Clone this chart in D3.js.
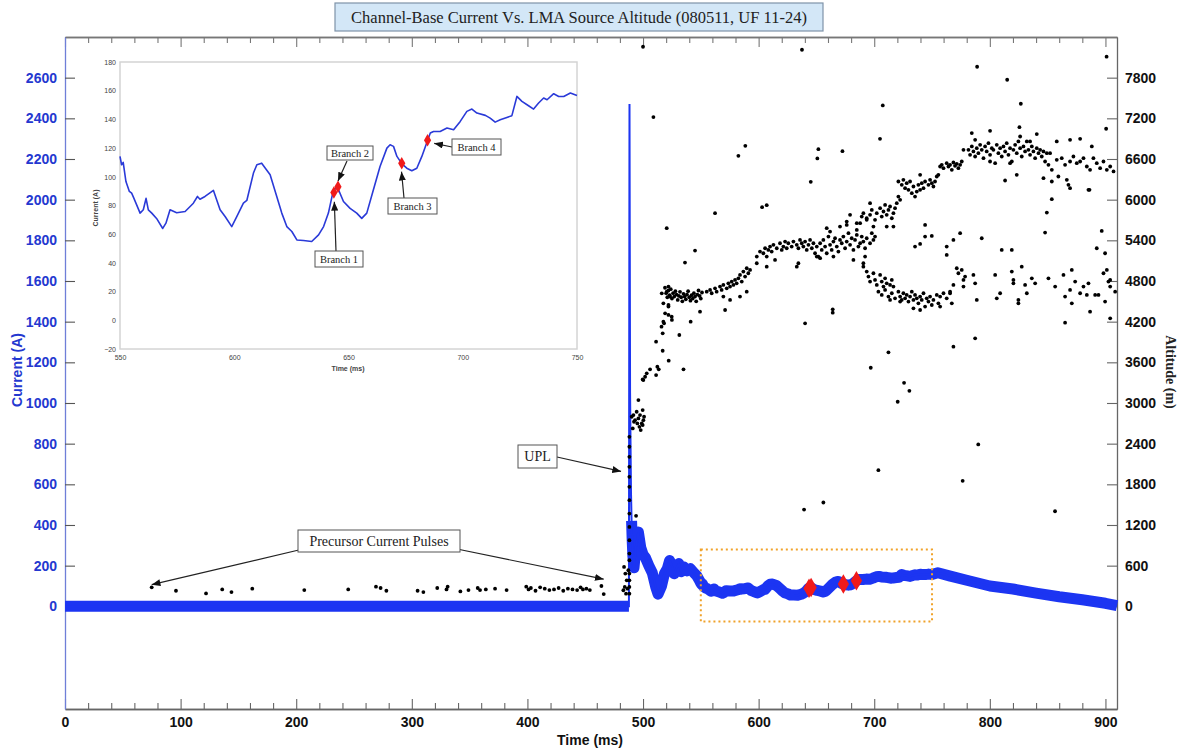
<!DOCTYPE html>
<html>
<head>
<meta charset="utf-8">
<script src="https://cdn.jsdelivr.net/npm/d3@7"></script>
<style>
  body { margin: 0; background: #ffffff; }
  svg text { font-family: "Liberation Sans", Arial, sans-serif; }
  svg text.serif { font-family: "Liberation Serif", "Times New Roman", serif; }
</style>
</head>
<body>
<svg id="chart" width="1179" height="749"></svg>
<script>
// ---------- tick labels ----------
const timeTicks = [0, 100, 200, 300, 400, 500, 600, 700, 800, 900];
const currentTicks = [0, 200, 400, 600, 800, 1000, 1200, 1400, 1600, 1800, 2000, 2200, 2400, 2600];
const altitudeTicks = [0, 600, 1200, 1800, 2400, 3000, 3600, 4200, 4800, 5400, 6000, 6600, 7200, 7800];
const insetTimeTicks = [550, 600, 650, 700, 750];
const insetCurrentTicks = [-20, 0, 20, 40, 60, 80, 100, 120, 140, 160, 180];

// ---------- channel-base current (ms, A) ----------
// before and through the return stroke / UPL onset
const earlyTime    = [0, 487.8, 488.3, 488.8, 489.2, 489.6, 490.1, 490.6, 491.2, 492.2, 494, 496, 498, 500, 502, 505, 508, 511, 513, 516, 518.5, 521, 523, 525, 527, 529, 531, 533, 535, 538, 541, 544, 546.5, 549];
const earlyCurrent = [0, 0, 2470, 1050, 800, 560, 420, 330, 250, 190, 300, 365, 290, 255, 240, 200, 165, 95, 60, 100, 160, 185, 225, 200, 160, 190, 210, 170, 195, 175, 185, 165, 150, 125];
// 550-750 ms window (shown enlarged in the inset)
const insetTime = [550, 550.7, 551.4, 552.6, 554.1, 555.1, 556.1, 558.8, 560.2, 561.4, 562.4, 563.9, 566, 568.7, 570.1, 571.9, 574.8, 578.5, 582.1, 583.9, 585, 587.2, 590.9, 593.8, 596, 598.9, 601.1, 604, 605.5, 608.4, 609.9, 612, 615.7, 618.6, 620.8, 623, 625.2, 627.4, 630.3, 633.9, 636.9, 639.1, 641.2, 643.1, 644.9, 647.8, 650.7, 653.6, 655.8, 658, 660.9, 663.8, 666.8, 668.2, 669.7, 671.2, 673.4, 675.5, 677.7, 679.9, 682.1, 684.6, 685.8, 687.2, 690.1, 693.1, 696, 698.9, 701.8, 704, 706.2, 709.9, 712, 714.2, 716.4, 719.3, 721.5, 723.7, 725.9, 728.8, 731, 733.2, 735.4, 736.9, 739.8, 742, 744.2, 747.1, 750];
const insetCurrent = [114.2, 108.4, 110, 96.7, 89.8, 88.6, 85, 74.7, 77, 85, 77, 74.7, 71, 64, 67.7, 77, 75, 75.8, 81.6, 86.3, 84.4, 86.3, 90.5, 77, 72.3, 65.3, 72.3, 81.6, 83.5, 102.6, 108.4, 109.5, 101.4, 86.3, 74.7, 65.3, 61.9, 56, 55.6, 54.9, 59.5, 65.3, 74.7, 88.6, 93.7, 82.8, 78, 74.7, 71, 74.7, 91, 107.2, 120, 122.3, 121.2, 114.2, 109, 106, 104.2, 106, 114.2, 125.3, 130.5, 131.6, 131.6, 134, 132.8, 138.6, 145.6, 147.2, 144.4, 142.8, 140.9, 138.1, 139.7, 141.4, 142.6, 156, 152.6, 149.5, 147.2, 151.4, 154.9, 153.7, 157.9, 156, 156, 158.4, 156.7];
// slow decay after 750 ms
const lateTime    = [755, 765, 780, 800, 820, 840, 860, 880, 900, 910];
const lateCurrent = [165, 150, 128, 100, 85, 65, 47, 32, 15, 3];

// ---------- branch onsets ----------
const branchLabels  = ["Branch 1", "Branch 2", "Branch 3", "Branch 4"];
const branchTime    = [643.6, 645.4, 673.3, 684.6];
const branchCurrent = [89, 93, 109.5, 125.5];

// ---------- LMA sources (ms, m) ----------
const lmaPrecursor = [[75,280],[96,230],[122,190],[136,250],[144,210],[162,260],[207,240],[245,250],[269,290],[273,270],[278,230],[305,230],[310,210],[322,270],[330,250],[331,290],[342,220],[349,240],[357,270],[359,240],[364,250],[372,260],[382,240],[399,290],[401,250],[403,270],[407,230],[411,280],[415,260],[419,240],[423,250],[427,270],[431,230],[435,260],[439,250],[443,240],[446,280],[448,250],[451,260],[454,240],[464,300],[466,180]];

const lmaLeader = [[483,237],[483.6,581],[484.2,286],[484.7,483],[485.3,187],[485.9,384],[486.5,261],[487.3,532],
  [488.2,187],[488.2,286],[488.2,384],[488.2,483],[488.2,680],[488.2,778],[488.2,975],[488.2,1172],[488.2,1369],[488.2,1566],[488.2,1763],[488.2,1911],[488.2,2058],[488.2,2206],[488.2,2354],[488.2,2501],
  [494,1335],
  [490.2,2797],[491.7,2821],[493.1,2747],[494.5,2871],[496,2772],[497.4,2821],[498.9,2698],[499.7,2895],[500.3,2747],[496.9,2649],[498,2600],[499.7,2674],[495.1,2698],[492.2,2723],[491.1,2624],[500.9,2797],
  [496,3043],[499.7,3348],[500.3,3338],[501.8,3387],[503.2,3437],[506.1,3496],[511.3,3412],[512.4,3535],[513.6,3496],[511.3,3904],[517,3771],[522.2,3624],[517,4028],[518.2,4176],[519.1,4323],[524.8,4274],[522,4422],[517.6,4471],[520.5,4643],[516.2,4618],[523.4,4569],[522,4717]];

const lmaUpperBand = [
  [519,4700],[520,4620],[521,4560],[522,4660],[523,4590],[524,4680],[525,4540],[526,4620],[527,4570],[528,4650],[529,4600],[530,4520],[531,4580],[532,4640],[533,4560],[534,4500],[535,4610],[536,4570],[537,4530],[538,4600],[539,4650],[540,4560],[541,4510],[542,4590],[543,4540],[544,4620],[545,4570],[546,4500],[547,4600],[548,4660],[549,4580],[550,4540],[551,4630],[522,4446],[522,4299],[525,4225],[517.6,4200],[516,4126],
  [555.1,4643],[558,4668],[559.4,4619],[562.3,4692],[563.7,4643],[566.6,4717],[568,4668],[569.5,4742],[572.4,4692],[573.8,4766],[575.3,4717],[576.7,4791],[578.2,4742],[579.6,4816],[581,4766],[582.5,4840],[583.9,4889],[585.4,4791],[586.8,4939],[588.3,4865],[589.7,4988],[591.1,4914],[592.6,4963],[569.5,4570],[575.3,4520],[583.9,4570],[589.7,4643],
  [598.4,5160],[601.2,5234],[604.1,5209],[605.6,5283],[607,5160],[608.4,5259],[609.9,5308],[611.3,5234],[612.8,5333],[614.2,5111],[615.7,5283],[618.5,5357],[620,5259],[621.4,5308],[622.9,5382],[624.3,5283],[598.4,5062],[607,5012],[633,5012],[634.4,5062],
  [625.7,5357],[628.6,5308],[630.1,5382],[633,5333],[634.4,5283],[635.8,5406],[637.3,5357],[638.7,5308],[640.2,5382],[641.6,5259],[643.1,5333],[644.5,5406],[646,5283],[647.4,5357],[648.8,5209],[650.3,5308],[651.7,5160],[653.2,5357],[654.6,5259],[656,5406],[657.5,5308],[658.9,5209],[660.4,5456],[661.8,5333],[663.2,5259],[664.7,5382],[666.1,5431],[667.6,5308],[669,5234],[670.4,5406],[671.9,5357],[673.3,5456],[674.8,5283],[676.2,5382],[677.7,5505],[679.1,5333],[680.5,5431],[682,5259],[683.4,5406],[684.9,5480],[686.3,5308],[687.8,5357],[689.2,5456],[690.6,5382],[692.1,5283],[693.5,5431],[696.4,5357],[697.9,5505],[699.3,5406],[700.7,5456],
  [650.3,5160],[653.2,5136],[664.7,5160],[682,5111],[690.6,5062],[692.1,5160],[658.9,5579],[661.8,5529],[670.4,5603],[676.2,5628],[684.9,5554],[687.8,5653],[693.5,5702],
  [684.9,5653],[689.2,5751],[690.6,5800],[693.5,5726],[696.4,5776],[697.9,5849],[700.7,5702],[702.2,5800],[705.1,5874],[706.5,5751],[708,5825],[709.4,5923],[710.8,5776],[712.3,5849],[713.7,5899],[715.2,5726],[716.6,5800],[718,5874],[719.5,5948],[720.9,6046],[722.4,5997],[716.6,5603],[710.8,5603],[699.3,5603],[696.4,5948],[676.2,5677],[679.1,5776],
  [720.9,6268],[723.8,6219],[725.2,6293],[726.7,6170],[728.1,6243],[729.6,6145],[731,6268],[732.5,6096],[733.9,6194],[735.3,6046],[736.8,6120],[738.2,6219],[739.7,6145],[741.1,6243],[742.6,6170],[744,6268],[746.9,6219],[748.3,6293],[749.8,6243],[751.2,6194],[752.6,6268],[754.1,6342],[755.5,6366],[739.7,6366],
  [757,6489],[758.4,6514],[759.9,6465],[762.7,6539],[764.2,6489],[765.6,6514],[767.1,6440],[768.5,6548],[769.9,6499],[771.4,6529],[772.8,6465],[774.3,6514],[775.7,6563],[777.2,6736],
  [781.5,6736],[782.9,6662],[784.4,6785],[785.8,6711],[787.3,6637],[788.7,6760],[790.1,6686],[791.6,6809],[793,6736],[794.5,6612],[795.9,6785],[797.3,6711],[798.8,6834],[800.2,6662],[801.7,6760],[803.1,6736],[804.6,6539],[806,6809],[807.4,6686],[808.9,6760],[810.3,6637],[811.8,6785],[813.2,6711],[814.6,6834],[816.1,6662],[817.5,6760],[819,6563],[820.4,6736],[821.9,6809],[823.3,6686],[824.7,6859],[826.2,6760],[827.6,6637],[829.1,6785],[830.5,6711],[832,6859],[833.4,6736],[834.8,6662],[836.3,6785],[837.7,6711],[839.2,6612],[840.6,6760],[842.1,6686],[843.5,6736],[844.9,6637],[846.4,6711],[847.8,6563],[849.3,6686],[850.7,6514],[852.1,6686],[853.6,6440],[787.3,6883],[826.2,6932],[800.2,6563],[817.5,6539],[834.8,6859],
  [857.9,6588],[862.2,6612],[865.1,6514],[866.6,6293],[869.4,6563],[872.3,6637],[875.2,6539],[878.1,6563],[881,6612],[883.9,6489],[886.7,6440],[889.6,6612],[892.5,6539],[895.4,6465],[898.3,6563],[901.2,6440],[904.1,6489],[907,6416],[859.3,6342],[868,6219],[885.3,6145],[853.6,6268],[846.4,6317]
];

const lmaLowerBand = [
  [690.6,5012],[693.5,4939],[695,4865],[696.4,4791],[699.3,4914],[700.7,4816],[702.2,4742],[705.1,4889],[706.5,4791],[708,4717],[709.4,4840],[710.8,4766],[713.7,4742],[715.2,4816],[716.6,4717],
  [703.6,4643],[706.5,4594],[709.4,4668],[712.3,4570],[715.2,4619],[718,4545],[720.9,4643],[722.4,4570],[723.8,4520],[725.2,4619],[726.7,4545],[728.1,4594],[729.6,4496],[731,4570],[732.5,4643],[733.9,4520],[735.3,4594],[736.8,4545],[738.2,4471],[739.7,4570],[741.1,4520],[742.6,4619],[744,4422],[745.4,4545],[746.9,4496],[748.3,4570],[749.8,4446],[751.2,4520],[754.1,4594],[755.5,4471],[757,4570],[759.9,4619],[762.7,4545],[765.6,4643],[767.1,4471],[739.7,4372],[733.9,4397],[722.4,4496],[713.7,4520],[757,4422],
  [771.4,4988],[772.8,4914],[775.7,4963],[777.2,4816],[778.6,4865],[777.2,4717],[785.8,4889],[787.3,4766],[788.7,4520],[804.6,4889],[806,4545],[808.9,4619],[819,4939],[820.4,4816],[820.4,4766],[824.7,4520],[824.7,4471],[827.6,5012],[830.5,4742],[832,4619],[836.3,4840],[839.2,4766],[850.7,4840],[856.5,4717],[863.7,4889],[865.1,4570],[869.4,4668],[870.9,4963],[870.9,4471],[873.8,4791],[878.1,4619],[881,4717],[883.9,4594],[885.3,4766],[886.7,4348],[891.1,4594],[894,4594],[898.3,4914],[899.7,4496],[902.6,4791],[904.1,4717],[908.4,4643],[768.5,4742],[765.6,4619],
  [744,5628],[744,5456],[749.8,5465],[735.3,5308],[739.7,5347],[762.7,5308],[762.7,5185],[768.5,5406],[774.3,5505],[793,5431],[810.3,5259],[819,5259],[849.3,5810],[847.8,5515],[853.6,6007],[896.8,5539],[892.5,5283],[899.7,5209],[901.2,4963],[904.1,4816]
];

const lmaScattered = [[500,8256],[637.5,8212],[789,7961],[815,7769],[901,8109],[826.8,7415],[707.4,7390],[509,7218],[825.6,7070],[705,6898],[900.6,7046],[588.5,6795],[582.5,6647],[651.7,6745],[650.8,6608],[672.5,6716],[645.1,6263],[562.3,5800],[603,5889],[607,5918],[545,5249],[536.3,5072],[520.5,5579],[784.4,6982],[800.2,7016],[840.6,6967],[857.9,6859],[869.4,6883],[878.1,6898],[888.2,6785],[813.2,6283],[823.3,6366],[869.4,6170],[886.2,6145],
  [640.2,4175],[664.1,4382],[664.1,4333],[531.4,4003],[541.2,4200],[571,4372],[549.3,4348],[865.1,4185],[904.1,4249],[787.3,3954],[768.5,3831],[712.3,3747],[697,3520],[725.8,3298],[730.4,3180],[720.3,3018],[703.6,2009],[639.3,1428],[656,1532],[790,2388],[776.5,1851],[856.4,1403],[535,3496]];

// ---------- layout ----------
const svg = d3.select("#chart");
const plot = { left: 65, top: 37, right: 1117, bottom: 709 };
const blue = "#1c35f2";
const x = d3.scaleLinear().domain([0, 910]).range([plot.left, plot.right]);
const yCur = d3.scaleLinear().domain([-505, 2800]).range([plot.bottom, plot.top]);
const yAlt = d3.scaleLinear().domain([-1515, 8400]).range([plot.bottom, plot.top]);
const plain = d3.format("d");

// arrowhead
const defs = svg.append("defs");
defs.append("marker").attr("id", "arrow").attr("viewBox", "0 0 10 8")
  .attr("refX", 10).attr("refY", 4).attr("markerWidth", 9).attr("markerHeight", 7)
  .attr("markerUnits", "userSpaceOnUse").attr("orient", "auto")
  .append("path").attr("d", "M0,0 L10,4 L0,8 z").attr("fill", "#111");

// title
const title = svg.append("g");
title.append("rect").attr("x", 335).attr("y", 3).attr("width", 488).attr("height", 28)
  .attr("fill", "#d3e7f7").attr("stroke", "#7f93a8").attr("stroke-width", 1.2);
title.append("text").attr("class", "serif").attr("x", 579).attr("y", 23)
  .attr("text-anchor", "middle").attr("font-size", 16.5).attr("fill", "#222")
  .text("Channel-Base Current Vs. LMA Source Altitude (080511, UF 11-24)");

// ---------- axes ----------
const minorTimes = d3.range(0, 911, 20).filter(t => t % 100 !== 0);
function styleAxis(g, color) {
  g.selectAll("path.domain").attr("stroke", color).attr("stroke-width", 1.3);
  g.selectAll(".tick line").attr("stroke", color).attr("stroke-width", 1.1);
}
const gxb = svg.append("g").attr("transform", `translate(0,${plot.bottom})`)
  .call(d3.axisBottom(x).tickValues(timeTicks).tickSize(-10).tickSizeOuter(0).tickPadding(8).tickFormat(plain));
gxb.selectAll("text").attr("font-size", 14).attr("font-weight", "bold").attr("fill", "#111");
styleAxis(gxb, "#666");
const gxbm = svg.append("g").attr("transform", `translate(0,${plot.bottom})`)
  .call(d3.axisBottom(x).tickValues(minorTimes).tickSize(-6).tickSizeOuter(0).tickFormat(""));
styleAxis(gxbm, "#666");
const gxt = svg.append("g").attr("transform", `translate(0,${plot.top})`)
  .call(d3.axisTop(x).tickValues(timeTicks).tickSize(-10).tickSizeOuter(0).tickFormat(""));
styleAxis(gxt, "#777");
const gxtm = svg.append("g").attr("transform", `translate(0,${plot.top})`)
  .call(d3.axisTop(x).tickValues(minorTimes).tickSize(-6).tickSizeOuter(0).tickFormat(""));
styleAxis(gxtm, "#777");

const gyl = svg.append("g").attr("transform", `translate(${plot.left},0)`)
  .call(d3.axisLeft(yCur).tickValues(currentTicks).tickSize(-10).tickSizeOuter(0).tickPadding(8).tickFormat(plain));
gyl.selectAll("text").attr("font-size", 14).attr("font-weight", "bold").attr("fill", "#2438d0");
styleAxis(gyl, "#6f7fd8");
gyl.selectAll(".tick line").attr("stroke", "#555");

const gyr = svg.append("g").attr("transform", `translate(${plot.right},0)`)
  .call(d3.axisRight(yAlt).tickValues(altitudeTicks).tickSize(-10).tickSizeOuter(0).tickPadding(8).tickFormat(plain));
gyr.selectAll("text").attr("font-size", 14).attr("font-weight", "bold").attr("fill", "#111");
styleAxis(gyr, "#666");

svg.append("text").attr("transform", "translate(22,370) rotate(-90)")
  .attr("text-anchor", "middle").attr("font-size", 14).attr("font-weight", "bold")
  .attr("fill", "#2438d0").text("Current (A)");
svg.append("text").attr("class", "serif").attr("transform", "translate(1166,372) rotate(90)")
  .attr("text-anchor", "middle").attr("font-size", 14).attr("font-weight", "bold")
  .attr("fill", "#222").text("Altitude (m)");
svg.append("text").attr("x", 590).attr("y", 745).attr("text-anchor", "middle")
  .attr("font-size", 14).attr("font-weight", "bold").attr("fill", "#111").text("Time (ms)");

// ---------- current trace ----------
const traceTime = earlyTime.concat(insetTime, lateTime);
const traceCurrent = earlyCurrent.concat(insetCurrent, lateCurrent);
const trace = traceTime.map((t, i) => [t, traceCurrent[i]]);

// noisy band of the digitised record
svg.append("path").datum(trace)
  .attr("d", d3.line().defined(d => d[1] < 500).x(d => x(d[0])).y(d => yCur(d[1])))
  .attr("fill", "none").attr("stroke", blue).attr("stroke-width", 11)
  .attr("stroke-linejoin", "round");
// full record including the return-stroke spike
svg.append("path").datum(trace)
  .attr("d", d3.line().x(d => x(d[0])).y(d => yCur(d[1])))
  .attr("fill", "none").attr("stroke", blue).attr("stroke-width", 2);

// ---------- LMA sources ----------
const lma = [].concat(lmaPrecursor, lmaLeader, lmaUpperBand, lmaLowerBand, lmaScattered);
svg.append("g").selectAll("circle").data(lma).join("circle")
  .attr("cx", d => x(d[0])).attr("cy", d => yAlt(d[1])).attr("r", 1.9).attr("fill", "#000");

// ---------- zoom window box ----------
const winT = d3.extent(insetTimeTicks);
svg.append("rect").attr("x", x(winT[0])).attr("y", yCur(280))
  .attr("width", x(winT[1]) - x(winT[0])).attr("height", yCur(-75) - yCur(280))
  .attr("fill", "none").attr("stroke", "#f0a22a").attr("stroke-width", 2)
  .attr("stroke-dasharray", "2,3");

// branch markers on main trace
svg.append("g").selectAll("path").data(branchTime).join("path")
  .attr("d", d3.symbol().type(d3.symbolDiamond).size(110)())
  .attr("transform", (t, i) => `translate(${x(t)},${yCur(branchCurrent[i])})`)
  .attr("fill", "#f01a1a");

// ---------- annotations on main plot ----------
function labelBox(g, bx, by, bw, bh, text, size) {
  g.append("rect").attr("x", bx).attr("y", by).attr("width", bw).attr("height", bh)
    .attr("fill", "#fff").attr("stroke", "#555").attr("stroke-width", 1);
  g.append("text").attr("class", "serif").attr("x", bx + bw / 2).attr("y", by + bh / 2 + size * 0.35)
    .attr("text-anchor", "middle").attr("font-size", size).attr("fill", "#222").text(text);
}
function arrow(g, x1, y1, x2, y2) {
  g.append("line").attr("x1", x1).attr("y1", y1).attr("x2", x2).attr("y2", y2)
    .attr("stroke", "#222").attr("stroke-width", 1.2).attr("marker-end", "url(#arrow)");
}
const ann = svg.append("g");
arrow(ann, 303, 549, x(75), yAlt(320));
arrow(ann, 457, 549, x(466), yAlt(400));
labelBox(ann, 298, 530, 162, 22, "Precursor Current Pulses", 14);
arrow(ann, 557, 457, x(481), yAlt(1990));
labelBox(ann, 518, 445, 39, 23, "UPL", 14);

// ---------- inset: 550-750 ms ----------
const xi = d3.scaleLinear().domain([550, 750]).range([120, 577]);
const yi = d3.scaleLinear().domain([-20, 180]).range([349, 62]);
const inset = svg.append("g");
inset.append("rect").attr("x", 120).attr("y", 62).attr("width", 457).attr("height", 287)
  .attr("fill", "#fff").attr("stroke", "#d4d4d4").attr("stroke-width", 1.5);
const gix = inset.append("g").attr("transform", "translate(0,349)")
  .call(d3.axisBottom(xi).tickValues(insetTimeTicks).tickSize(0).tickPadding(6).tickFormat(plain));
gix.select("path.domain").remove();
gix.selectAll("text").attr("font-size", 7).attr("fill", "#444");
const giy = inset.append("g").attr("transform", "translate(120,0)")
  .call(d3.axisLeft(yi).tickValues(insetCurrentTicks).tickSize(0).tickPadding(4).tickFormat(plain));
giy.select("path.domain").remove();
giy.selectAll("text").attr("font-size", 7).attr("fill", "#444");
inset.append("text").attr("x", 348).attr("y", 371).attr("text-anchor", "middle")
  .attr("font-size", 7).attr("font-weight", "bold").attr("fill", "#444").text("Time (ms)");
inset.append("text").attr("transform", "translate(98,208) rotate(-90)").attr("text-anchor", "middle")
  .attr("font-size", 7).attr("font-weight", "bold").attr("fill", "#444").text("Current (A)");

inset.append("path").datum(insetTime.map((t, i) => [t, insetCurrent[i]]))
  .attr("d", d3.line().x(d => xi(d[0])).y(d => yi(d[1])))
  .attr("fill", "none").attr("stroke", "#2a3ad8").attr("stroke-width", 1.6).attr("stroke-linejoin", "round");
inset.append("g").selectAll("path").data(branchTime).join("path")
  .attr("d", d3.symbol().type(d3.symbolDiamond).size(45)())
  .attr("transform", (t, i) => `translate(${xi(t)},${yi(branchCurrent[i])})`)
  .attr("fill", "#f01a1a");

// branch callouts
arrow(inset, 347, 161, xi(645.4), yi(97));
labelBox(inset, 327, 146, 46, 14, branchLabels[1], 10.5);
arrow(inset, 336, 251, xi(643.8), yi(82.6));
labelBox(inset, 315, 251, 48, 16, branchLabels[0], 10.5);
arrow(inset, 404, 198, xi(673.2), yi(103.6));
labelBox(inset, 388, 198, 49, 16, branchLabels[2], 10.5);
arrow(inset, 452, 147, xi(687.5), yi(123.3));
labelBox(inset, 452, 139, 49, 16, branchLabels[3], 10.5);
</script>
</body>
</html>
